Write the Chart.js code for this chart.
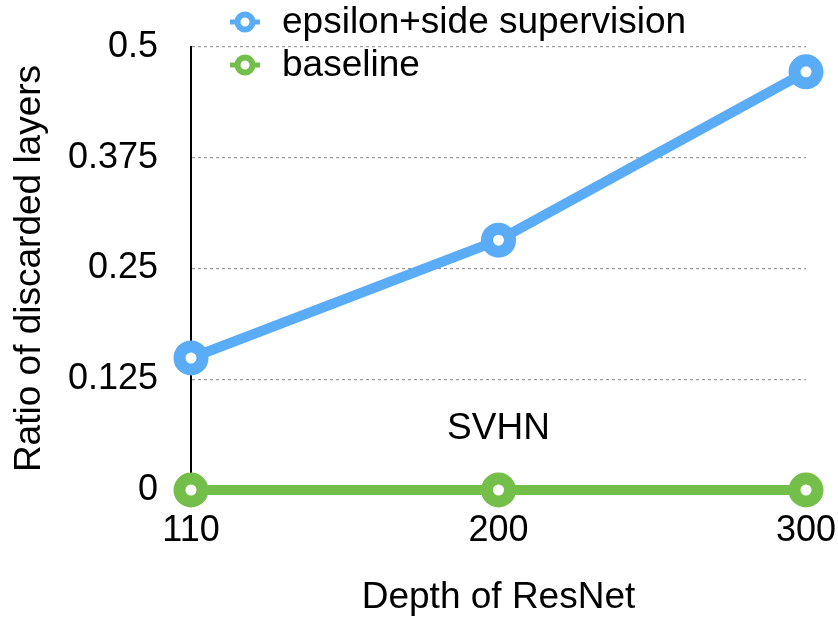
<!DOCTYPE html>
<html>
<head>
<meta charset="utf-8">
<script src="https://cdn.jsdelivr.net/npm/chart.js"></script>
<style>
  html,body{margin:0;padding:0;background:#fff;}
  #wrap{width:838px;height:622px;position:relative;}
</style>
</head>
<body>
<div id="wrap"><canvas id="chart"></canvas></div>
<script>
/* ---------- DATA ---------- */
const depths = ["110", "200", "300"];
const epsilonSide = [0.149, 0.282, 0.472];
const baseline = [0, 0, 0];
const yTicks = [0, 0.125, 0.25, 0.375, 0.5];
const seriesNames = ["epsilon+side supervision", "baseline"];
const note = "SVHN";

/* ---------- STYLE ---------- */
const FONT = "'Liberation Sans', Arial, Helvetica, sans-serif";
const BLUE = "#5aacf6", GREEN = "#74be4a";

/* ---------- OVERLAY: legend + dataset note ---------- */
const overlay = {
  id: "overlay",
  afterDraw(chart) {
    const ctx = chart.ctx;
    ctx.save();
    ctx.font = "37px " + FONT;
    ctx.textBaseline = "middle";
    chart.data.datasets.forEach((ds, i) => {
      const y = 22 + i * 43, cx = 245;
      ctx.strokeStyle = ds.borderColor;
      ctx.lineWidth = 5;
      ctx.beginPath(); ctx.moveTo(cx - 15, y); ctx.lineTo(cx + 15, y); ctx.stroke();
      ctx.beginPath(); ctx.arc(cx, y, 7.5, 0, Math.PI * 2);
      ctx.fillStyle = "#fff"; ctx.fill();
      ctx.lineWidth = 6; ctx.stroke();
      ctx.fillStyle = "#000";
      ctx.textAlign = "left";
      ctx.fillText(ds.label, 282, y + 1);
    });
    // dataset name inside the plot
    const xs = chart.scales.x;
    ctx.textAlign = "center";
    ctx.fillText(note, xs.getPixelForValue(1), 429);
    ctx.restore();
  }
};

/* ---------- CHART ---------- */
new Chart(document.getElementById("chart"), {
  type: "line",
  data: {
    labels: depths,
    datasets: [
      { label: seriesNames[0], data: epsilonSide, borderColor: BLUE, backgroundColor: "#fff",
        borderWidth: 10, pointRadius: 11.5, pointBorderWidth: 12, pointBackgroundColor: "#fff",
        pointBorderColor: BLUE, clip: false, tension: 0 },
      { label: seriesNames[1], data: baseline, borderColor: GREEN, backgroundColor: "#fff",
        borderWidth: 10, pointRadius: 11.5, pointBorderWidth: 12, pointBackgroundColor: "#fff",
        pointBorderColor: GREEN, clip: false, tension: 0 }
    ]
  },
  options: {
    responsive: true,
    maintainAspectRatio: false,
    animation: false,
    layout: { padding: { top: 47, right: 32, left: 0, bottom: 0 } },
    plugins: { legend: { display: false }, tooltip: { enabled: false } },
    scales: {
      x: {
        offset: false,
        grid: { display: false, drawTicks: false },
        border: { display: false },
        ticks: { color: "#000", font: { family: FONT, size: 36 }, padding: 19, maxRotation: 0 },
        title: { display: true, text: "Depth of ResNet", color: "#000",
                 font: { family: FONT, size: 37 }, padding: { top: 0, bottom: 2 } },
        afterFit(s) { s.height = 132; s.paddingLeft = 0; s.paddingRight = 0; }
      },
      y: {
        min: 0, max: 0.5,
        afterBuildTicks(s) { s.ticks = yTicks.map(v => ({ value: v })); },
        grid: {
          drawTicks: false, lineWidth: 1.2,
          color: ctx => ctx.tick && ctx.tick.value === 0 ? "rgba(0,0,0,0)" : "#9a9a9a"
        },
        border: { display: true, color: "#000", width: 2, dash: [3, 3] },
        ticks: { color: "#000", font: { family: FONT, size: 36 }, padding: 33,
                 callback: v => String(v) },
        title: { display: true, text: "Ratio of discarded layers", color: "#000",
                 font: { family: FONT, size: 37 }, padding: { top: 8, bottom: 0 } },
        afterFit(s) { s.width = 191; s.paddingTop = 0; s.paddingBottom = 0; }
      }
    }
  },
  plugins: [overlay]
});
</script>
</body>
</html>
